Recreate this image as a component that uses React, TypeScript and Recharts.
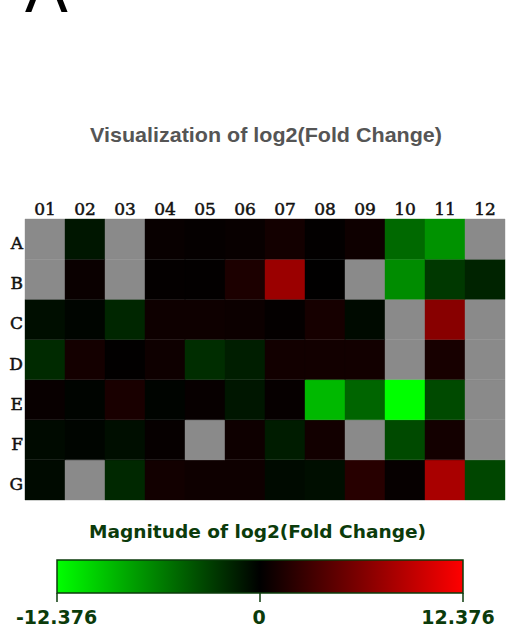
import React from 'react';
import { BarChart, Bar, XAxis, YAxis, Cell } from 'recharts';

// Columns (plate columns) and rows (plate rows, top to bottom)
const columns = ['01', '02', '03', '04', '05', '06', '07', '08', '09', '10', '11', '12'];
const rows = ['A', 'B', 'C', 'D', 'E', 'F', 'G'];

// log2(Fold Change) per row; null = no value (grey cell)
const rowA = [null, -1.05, null, 0.4, 0.25, 0.4, 0.9, 0.15, 0.7, -5.1, -7.1, null];
const rowB = [null, 0.5, null, 0.2, 0.15, 1.35, 7.5, 0.05, null, -6.8, -2.7, -1.7];
const rowC = [-0.7, -0.25, -1.85, 0.7, 0.7, 0.6, 0.2, 1.05, -0.5, null, 6.6, null];
const rowD = [-2.05, 0.95, 0.12, 0.7, -2.2, -1.45, 0.85, 0.85, 0.85, null, 1.1, null];
const rowE = [0.4, -0.2, 1.2, -0.2, 0.35, -1.05, 0.3, -9.0, -4.9, -12.376, -3.6, null];
const rowF = [-0.5, -0.25, -0.7, 0.3, null, 0.7, -1.35, 0.85, null, -3.6, 0.9, null];
const rowG = [-0.5, null, -1.95, 0.85, 0.7, 0.7, -0.5, -0.7, 1.9, 0.3, 8.2, -3.4];

const matrix: (number | null)[][] = [rowA, rowB, rowC, rowD, rowE, rowF, rowG];

const scaleMax = 12.376;
const colorbarTicks = [-12.376, 0, 12.376];
const colorbarLabels = ['-12.376', '0', '12.376'];

const MISSING = '#8a8a8a';

function heatColor(v: number | null): string {
  if (v === null || v === undefined) return MISSING;
  const t = Math.min(1, Math.abs(v) / scaleMax);
  const c = Math.round(255 * t);
  return v < 0 ? `rgb(0,${c},0)` : `rgb(${c},0,0)`;
}

// each stacked segment has height 1 (one plate row)
const data = columns.map((col) => {
  const d: Record<string, string | number> = { col };
  rows.forEach((r) => {
    d[r] = 1;
  });
  return d;
});

// stacking order bottom -> top
const stackOrder = [...rows].reverse();
const yTicks = rows.map((_, i) => i + 0.5);

const RowTick = (props: any) => {
  const { x, y, payload } = props;
  const idx = rows.length - 1 - Math.floor(payload.value);
  return (
    <text
      x={x}
      y={y + 10}
      textAnchor="end"
      fontFamily="DejaVu Serif"
      fontSize={17}
      fill="#111"
      stroke="#111"
      strokeWidth={0.5}
    >
      {rows[idx]}
    </text>
  );
};

const ColTick = (props: any) => {
  const { x, y, payload } = props;
  return (
    <text
      x={x}
      y={y}
      textAnchor="middle"
      fontFamily="DejaVu Serif"
      fontSize={17}
      fill="#111"
      stroke="#111"
      strokeWidth={0.5}
    >
      {payload.value}
    </text>
  );
};

export default function App() {
  const barX0 = 57;
  const barX1 = 463;
  const barW = barX1 - barX0;
  const tickX = (v: number) => barX0 + ((v + scaleMax) / (2 * scaleMax)) * barW;
  return (
    <div style={{ position: 'absolute', left: 0, top: 0, width: 506, height: 627, background: '#fff' }}>
      <BarChart
        width={506}
        height={627}
        data={data}
        margin={{ top: 199, right: 1, bottom: 127, left: 0 }}
        barCategoryGap={0}
        barGap={0}
      >
        <XAxis
          dataKey="col"
          orientation="top"
          height={20}
          axisLine={false}
          tickLine={false}
          tickSize={0}
          tickMargin={4}
          interval={0}
          tick={<ColTick />}
        />
        <YAxis
          type="number"
          domain={[0, 7]}
          ticks={yTicks}
          width={25}
          axisLine={false}
          tickLine={false}
          tickSize={0}
          tickMargin={2}
          interval={0}
          tick={<RowTick />}
        />
        {stackOrder.map((r) => {
          const ri = rows.indexOf(r);
          return (
            <Bar key={r} dataKey={r} stackId="plate" isAnimationActive={false}>
              {columns.map((c, ci) => (
                <Cell
                  key={c}
                  fill={heatColor(matrix[ri][ci])}
                  stroke={heatColor(matrix[ri][ci])}
                  strokeWidth={0.4}
                />
              ))}
            </Bar>
          );
        })}
      </BarChart>
      <svg
        width={506}
        height={627}
        style={{ position: 'absolute', left: 0, top: 0, pointerEvents: 'none' }}
      >
        <defs>
          <linearGradient id="lfc" x1="0" y1="0" x2="1" y2="0">
            <stop offset="0%" stopColor="#00ff00" />
            <stop offset="50%" stopColor="#000000" />
            <stop offset="100%" stopColor="#ff0000" />
          </linearGradient>
        </defs>
        <text x={25} y={12} fontFamily="Liberation Sans" fontSize={64} fill="#000">
          A
        </text>
        <text
          x={266}
          y={142}
          textAnchor="middle"
          fontFamily="Liberation Sans"
          fontWeight="bold"
          fontSize={21}
          fill="#555"
          textLength={352}
          lengthAdjust="spacingAndGlyphs"
        >
          Visualization of log2(Fold Change)
        </text>
        <text
          x={257.5}
          y={538}
          textAnchor="middle"
          fontFamily="DejaVu Sans"
          fontWeight="bold"
          fontSize={18}
          fill="#0b3b0b"
          textLength={337}
          lengthAdjust="spacingAndGlyphs"
        >
          Magnitude of log2(Fold Change)
        </text>
        <rect x={barX0} y={560} width={barW} height={33} fill="url(#lfc)" stroke="#0b3b0b" strokeWidth={1.5} />
        {colorbarTicks.map((t, i) => (
          <g key={i}>
            <line x1={tickX(t)} x2={tickX(t)} y1={593} y2={602} stroke="#0b3b0b" strokeWidth={1.5} />
            <text
              x={i === 0 ? 56.5 : i === 2 ? 458 : tickX(t) - 1}
              y={624}
              textAnchor="middle"
              fontFamily="DejaVu Sans"
              fontWeight="bold"
              fontSize={19}
              fill="#0b3b0b"
            >
              {colorbarLabels[i]}
            </text>
          </g>
        ))}
      </svg>
    </div>
  );
}
